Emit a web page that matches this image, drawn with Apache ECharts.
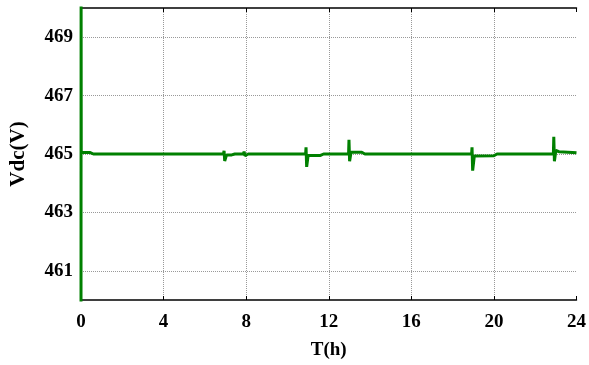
<!DOCTYPE html>
<html>
<head>
<meta charset="utf-8">
<script src="https://cdn.jsdelivr.net/npm/echarts@6/dist/echarts.min.js"></script>
<style>html,body{margin:0;padding:0;background:#fff;}#c{width:589px;height:365px;}</style>
</head>
<body>
<div id="c"></div>
<script>
// time in hours
var timeH = [0, 0.005, 0.012, 0.45, 0.6, 6.9,
  6.93, 6.96, 7.05, 7.3, 7.45,
  7.86, 7.9, 7.94, 8.1, 8.3,
  10.88, 10.9, 10.93, 11.0, 11.6, 11.75,
  12.96, 12.98, 13.01, 13.08, 13.6, 13.75,
  18.92, 18.94, 18.97, 19.05, 20.0, 20.15,
  22.88, 22.9, 22.93, 23.0, 23.15, 23.8, 24];
// DC-link voltage
var vdc = [459.5, 470.5, 465.05, 465.05, 465.0, 465.0,
  465.11, 464.76, 464.97, 464.97, 465.0,
  465.0, 465.08, 464.94, 465.0, 465.0,
  465.0, 465.23, 464.56, 464.95, 464.95, 465.0,
  465.0, 465.49, 464.75, 465.06, 465.06, 465.0,
  465.0, 465.23, 464.43, 464.93, 464.94, 465.0,
  465.0, 465.59, 464.75, 465.12, 465.08, 465.05, 465.04];

var xTicks = [0, 24, 4];   // min, max, interval
var yTicks = [460, 470, 1];

var seriesData = timeH.map(function (t, i) { return [t, vdc[i]]; });

var font = '"Liberation Serif", "Times New Roman", serif';
var chart = echarts.init(document.getElementById('c'), null, { renderer: 'canvas' });
chart.setOption({
  animation: false,
  backgroundColor: '#fff',
  grid: { left: 79, right: 10, top: 8, bottom: 60, containLabel: false },
  xAxis: [{
    type: 'value', min: xTicks[0], max: xTicks[1], interval: xTicks[2],
    position: 'bottom',
    name: 'T(h)', nameLocation: 'middle', nameGap: 41,
    nameTextStyle: { fontFamily: font, fontWeight: 'bold', fontSize: 19, color: '#000' },
    axisLine: { show: true, lineStyle: { color: '#000', width: 1.5 } },
    axisTick: { show: true, inside: true, length: 4, lineStyle: { color: '#000' } },
    axisLabel: { fontFamily: font, fontWeight: 'bold', fontSize: 19, color: '#000', margin: 13 },
    splitLine: { show: true, lineStyle: { color: ['transparent', '#999', '#999', '#999', '#999', '#999', 'transparent'], type: [1, 1], width: 1 } }
  }, {
    type: 'value', min: xTicks[0], max: xTicks[1], interval: xTicks[2],
    position: 'top',
    axisLine: { show: true, lineStyle: { color: '#000', width: 1.5 } },
    axisTick: { show: true, inside: true, length: 4, lineStyle: { color: '#000' } },
    axisLabel: { show: false },
    splitLine: { show: false }
  }],
  yAxis: [{
    type: 'value', min: yTicks[0], max: yTicks[1], interval: yTicks[2],
    position: 'left',
    name: 'Vdc(V)', nameLocation: 'middle', nameGap: 52, nameRotate: 90,
    nameTextStyle: { fontFamily: font, fontWeight: 'bold', fontSize: 21, color: '#000' },
    axisLine: { show: true, lineStyle: { color: '#000', width: 1.5 } },
    axisTick: { show: false },
    axisLabel: {
      fontFamily: font, fontWeight: 'bold', fontSize: 19, color: '#000', margin: 8,
      formatter: function (v) { return (Math.round(v) % 2 === 1) ? String(Math.round(v)) : ''; }
    },
    splitLine: { show: true, lineStyle: { color: ['transparent', '#999'], type: [1, 1], width: 1 } }
  }, {
    type: 'value', min: yTicks[0], max: yTicks[1], interval: yTicks[2],
    position: 'right',
    axisLine: { show: true, lineStyle: { color: '#000', width: 1.5 } },
    axisTick: { show: false },
    axisLabel: { show: false },
    splitLine: { show: false }
  }],
  series: [{
    type: 'line',
    xAxisIndex: 0, yAxisIndex: 0,
    data: seriesData,
    showSymbol: false,
    symbol: 'none',
    clip: true,
    lineStyle: { color: '#008000', width: 3 },
    z: 5
  }]
});
</script>
</body>
</html>
